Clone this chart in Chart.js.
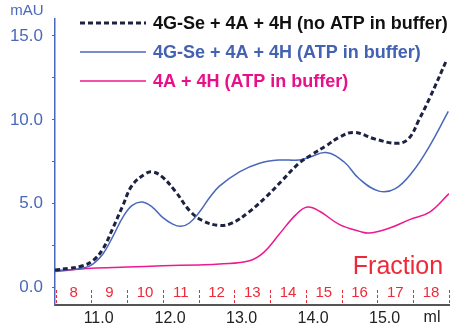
<!DOCTYPE html>
<html>
<head>
<meta charset="utf-8">
<script src="https://cdn.jsdelivr.net/npm/chart.js@4"></script>
<style>
  html, body { margin: 0; padding: 0; background: #fff; }
  #wrap { width: 456px; height: 332px; }
</style>
</head>
<body>
<div id="wrap"><canvas id="elutionChart" width="456" height="332"></canvas></div>
<script>
// elution volume (ml) / absorbance (mAU)
const noAtpMl  = [10.39, 10.59, 10.78, 10.92, 11.06, 11.20, 11.34, 11.47, 11.66, 11.75, 11.89, 12.08, 12.27, 12.45, 12.69, 12.87, 13.10, 13.34, 13.57, 13.80, 13.99, 14.18, 14.36, 14.57, 14.87, 15.18, 15.34, 15.48, 15.63, 15.87];
const noAtpVal = [1.05, 1.15, 1.3, 1.6, 2.3, 3.55, 4.9, 6.1, 6.8, 6.9, 6.6, 5.7, 4.6, 4.0, 3.7, 3.85, 4.5, 5.4, 6.4, 7.4, 7.95, 8.45, 8.95, 9.25, 8.85, 8.6, 8.9, 10.0, 11.3, 13.6];

const atpMl  = [10.39, 10.78, 10.92, 11.06, 11.20, 11.34, 11.47, 11.61, 11.75, 11.89, 12.03, 12.15, 12.27, 12.41, 12.55, 12.69, 12.97, 13.24, 13.52, 13.80, 13.94, 14.18, 14.43, 14.64, 14.92, 15.15, 15.39, 15.63, 15.89];
const atpVal = [1.0, 1.15, 1.4, 2.0, 3.05, 4.2, 4.9, 5.1, 4.8, 4.2, 3.8, 3.65, 3.85, 4.5, 5.35, 6.05, 6.9, 7.4, 7.6, 7.6, 7.75, 8.05, 7.5, 6.5, 5.75, 5.9, 6.9, 8.45, 10.5];

const ahMl  = [10.39, 10.9, 11.4, 11.9, 12.4, 12.69, 13.11, 13.31, 13.52, 13.76, 13.92, 14.09, 14.37, 14.65, 14.79, 15.07, 15.35, 15.63, 15.9];
const ahVal = [0.95, 1.15, 1.22, 1.3, 1.35, 1.4, 1.6, 2.1, 3.15, 4.35, 4.8, 4.55, 3.75, 3.35, 3.25, 3.55, 4.05, 4.5, 5.6];

const seriesNames = ['4G-Se + 4A + 4H (no ATP in buffer)', '4G-Se + 4A + 4H (ATP in buffer)', '4A + 4H (ATP in buffer)'];

const xTicks = [11, 12, 13, 14, 15];
const yTicks = [0, 2.5, 5, 7.5, 10, 12.5, 15];
const fractionEdges  = [10.4, 10.9, 11.4, 11.9, 12.4, 12.9, 13.4, 13.9, 14.4, 14.9, 15.4, 15.9];
const fractionLabels = ['8', '9', '10', '11', '12', '13', '14', '15', '16', '17', '18'];

const FONT = "'Liberation Sans', Arial, sans-serif";
const BLUE = '#4a68bb';
const NAVY = '#1d2242';
const PINK = '#ec1a8e';
const RED = '#ee2a3a';

function toPoints(xs, ys) {
    return xs.map((x, i) => ({ x: x, y: ys[i] }));
}

// fractions, axis captions and the legend block
const extrasPlugin = {
    id: 'extras',
    afterDraw(chart) {
        const ctx = chart.ctx;
        const xs = chart.scales.x;
        const area = chart.chartArea;
        ctx.save();

        // fraction boundaries (red dashed marks above the x axis)
        ctx.strokeStyle = RED;
        ctx.lineWidth = 1;
        ctx.setLineDash([3, 2]);
        fractionEdges.forEach(v => {
            const px = Math.round(xs.getPixelForValue(v)) + 0.5;
            ctx.beginPath();
            ctx.moveTo(px, area.bottom - 15);
            ctx.lineTo(px, area.bottom);
            ctx.stroke();
        });
        ctx.setLineDash([]);

        ctx.fillStyle = RED;
        ctx.font = '15px ' + FONT;
        ctx.textAlign = 'center';
        ctx.textBaseline = 'middle';
        fractionLabels.forEach((lab, i) => {
            const mid = (fractionEdges[i] + fractionEdges[i + 1]) / 2;
            ctx.fillText(lab, xs.getPixelForValue(mid), area.bottom - 12);
        });

        ctx.font = '25px ' + FONT;
        ctx.fillText('Fraction', 398, 267);

        // axis units
        ctx.fillStyle = '#222';
        ctx.font = '16px ' + FONT;
        ctx.fillText('ml', 432, 318);
        ctx.fillStyle = BLUE;
        ctx.font = '15px ' + FONT;
        ctx.fillText('mAU', 27, 11);

        // legend
        const rows = [
            { y: 23, color: NAVY, text: '#111', width: 3, dash: [5, 3] },
            { y: 52, color: BLUE, text: '#4462b2', width: 1.5, dash: [] },
            { y: 81, color: PINK, text: '#e8108a', width: 1.5, dash: [] }
        ];
        ctx.textAlign = 'left';
        ctx.font = 'bold 18px ' + FONT;
        rows.forEach((r, i) => {
            ctx.strokeStyle = r.color;
            ctx.lineWidth = r.width;
            ctx.setLineDash(r.dash);
            ctx.beginPath();
            ctx.moveTo(80, r.y);
            ctx.lineTo(146, r.y);
            ctx.stroke();
            ctx.fillStyle = r.text;
            ctx.fillText(seriesNames[i], 153, r.y + 1);
        });
        ctx.restore();
    }
};

new Chart(document.getElementById('elutionChart'), {
    type: 'line',
    data: {
        datasets: [
            {
                label: seriesNames[0],
                data: toPoints(noAtpMl, noAtpVal),
                borderColor: NAVY,
                borderWidth: 3,
                borderDash: [5, 3],
                pointRadius: 0,
                tension: 0.4
            },
            {
                label: seriesNames[1],
                data: toPoints(atpMl, atpVal),
                borderColor: BLUE,
                borderWidth: 1.5,
                pointRadius: 0,
                tension: 0.4
            },
            {
                label: seriesNames[2],
                data: toPoints(ahMl, ahVal),
                borderColor: PINK,
                borderWidth: 1.5,
                pointRadius: 0,
                tension: 0.4
            }
        ]
    },
    options: {
        responsive: false,
        animation: false,
        events: [],
        layout: { padding: { top: 15, right: 7, left: 0, bottom: 0 } },
        plugins: {
            legend: { display: false },
            tooltip: { enabled: false }
        },
        scales: {
            x: {
                type: 'linear',
                min: 10.39,
                max: 15.9,
                afterBuildTicks: scale => { scale.ticks = xTicks.map(v => ({ value: v })); },
                afterFit: scale => { scale.height = 27; },
                grid: { display: false },
                border: { display: true, color: '#555', width: 2 },
                ticks: {
                    autoSkip: false,
                    maxRotation: 0,
                    padding: -4,
                    color: '#222',
                    font: { family: FONT, size: 16 },
                    callback: v => v.toFixed(1)
                }
            },
            y: {
                min: -1.04,
                max: 16,
                afterBuildTicks: scale => { scale.ticks = yTicks.map(v => ({ value: v })); },
                afterFit: scale => { scale.width = 55; },
                grid: { drawOnChartArea: false, drawTicks: true, tickLength: 3, color: BLUE },
                border: { display: true, color: BLUE, width: 1.5 },
                ticks: {
                    padding: 9,
                    color: BLUE,
                    font: { family: FONT, size: 17 },
                    callback: v => (v % 5 === 0 ? v.toFixed(1) : '')
                }
            }
        }
    },
    plugins: [extrasPlugin]
});
</script>
</body>
</html>
